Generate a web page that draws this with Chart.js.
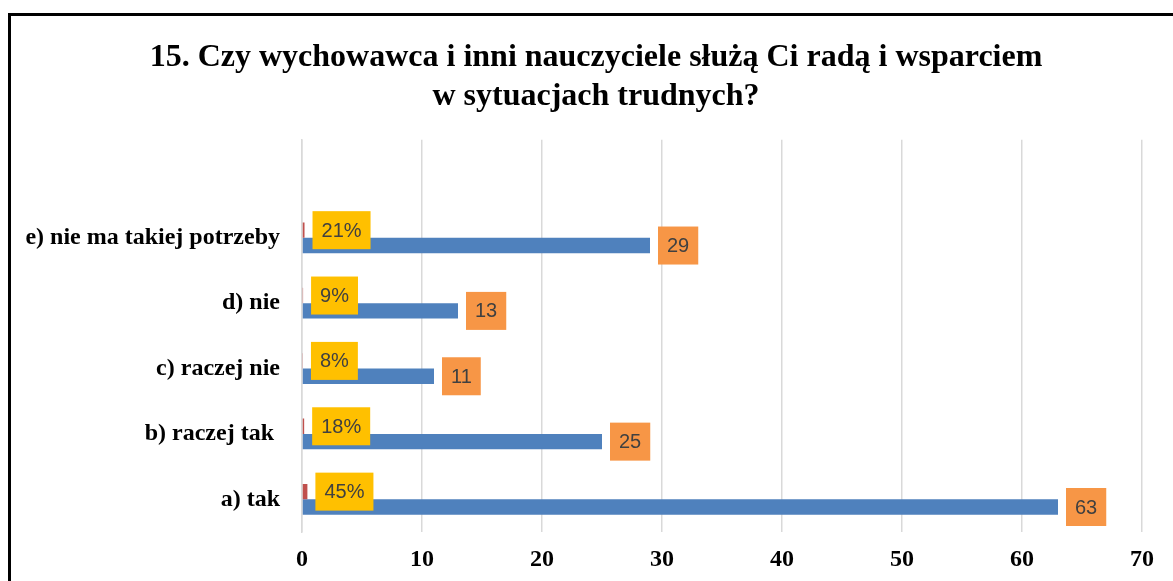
<!DOCTYPE html>
<html>
<head>
<meta charset="utf-8">
<script src="https://cdn.jsdelivr.net/npm/chart.js@4/dist/chart.umd.min.js"></script>
<style>
  html, body { margin: 0; padding: 0; background: #fff; overflow: hidden; }
  .frame {
    position: absolute; left: 8px; top: 13px;
    width: 1200px; height: 600px;
    border-top: 3px solid #000; border-left: 3px solid #000;
  }
  .chart-wrapper { position: absolute; left: 0; top: 0; width: 1170px; height: 565px; }
</style>
</head>
<body>
<div class="frame">
  <div class="chart-wrapper"><canvas id="barChart"></canvas></div>
</div>
<script>
// dane wykresu (od góry do dołu, pusty wiersz na górze jak w Excelu)
const categories = ['', 'e) nie ma takiej potrzeby', 'd) nie', 'c) raczej nie', 'b) raczej tak ', 'a) tak'];
const countValues = [null, 29, 13, 11, 25, 63];
const percentValues = [null, 0.21, 0.09, 0.08, 0.18, 0.45];
const percentLabels = ['', '21%', '9%', '8%', '18%', '45%'];
const xTicks = [0, 10, 20, 30, 40, 50, 60, 70];

// etykiety w kolorowych ramkach obok słupków
const boxLabels = {
  id: 'boxLabels',
  afterDatasetsDraw(chart) {
    const ctx = chart.ctx;
    ctx.save();
    ctx.font = '20px "Liberation Sans", Arial, sans-serif';
    ctx.textBaseline = 'middle';
    ctx.textAlign = 'center';
    chart.data.datasets.forEach((ds, di) => {
      const meta = chart.getDatasetMeta(di);
      meta.data.forEach((bar, i) => {
        if (ds.data[i] === null) return;
        const text = di === 0 ? percentLabels[i] : String(ds.data[i]);
        const w = ctx.measureText(text).width + 18;
        const h = 38;
        const left = bar.x + 8;
        ctx.fillStyle = di === 0 ? '#FFC000' : '#F79646';
        ctx.fillRect(left, bar.y - h / 2, w, h);
        ctx.fillStyle = '#404040';
        ctx.fillText(text, left + w / 2, bar.y + 1);
      });
    });
    ctx.restore();
  }
};

new Chart(document.getElementById('barChart'), {
  type: 'bar',
  data: {
    labels: categories,
    datasets: [{
      label: 'procent',
      data: percentValues,
      backgroundColor: '#C0504D',
      barPercentage: 1,
      categoryPercentage: 0.47
    }, {
      label: 'liczba',
      data: countValues,
      backgroundColor: '#4F81BD',
      barPercentage: 1,
      categoryPercentage: 0.47
    }]
  },
  options: {
    indexAxis: 'y',
    responsive: true,
    maintainAspectRatio: false,
    animation: false,
    layout: { padding: 0 },
    plugins: {
      legend: { display: false },
      tooltip: { enabled: false },
      title: {
        display: true,
        text: ['15. Czy wychowawca i inni nauczyciele służą Ci radą i wsparciem', 'w sytuacjach trudnych?'],
        color: '#000',
        font: { family: '"Liberation Serif", "Times New Roman", serif', size: 32, weight: 'bold', lineHeight: 1.2 },
        padding: { top: 23, bottom: 24 }
      }
    },
    scales: {
      x: {
        min: 0,
        max: 70,
        afterBuildTicks: scale => { scale.ticks = xTicks.map(v => ({ value: v })); },
        afterFit: scale => { scale.height = 49; },
        grid: { color: '#D9D9D9', lineWidth: 1.5, drawTicks: false },
        border: { display: false },
        ticks: {
          padding: 13,
          color: '#000',
          font: { family: '"Liberation Serif", "Times New Roman", serif', size: 24, weight: 'bold' }
        }
      },
      y: {
        afterFit: scale => { scale.width = 291; },
        grid: { display: false, drawTicks: false },
        border: { color: '#D9D9D9', width: 1.5 },
        ticks: {
          padding: 22,
          color: '#000',
          font: { family: '"Liberation Serif", "Times New Roman", serif', size: 24, weight: 'bold' }
        }
      },
      // pusty margines po prawej stronie obszaru wykresu
      yRight: {
        type: 'linear',
        position: 'right',
        afterFit: scale => { scale.width = 39; },
        grid: { display: false, drawTicks: false },
        border: { display: false },
        ticks: { display: false }
      }
    }
  },
  plugins: [boxLabels]
});
</script>
</body>
</html>
